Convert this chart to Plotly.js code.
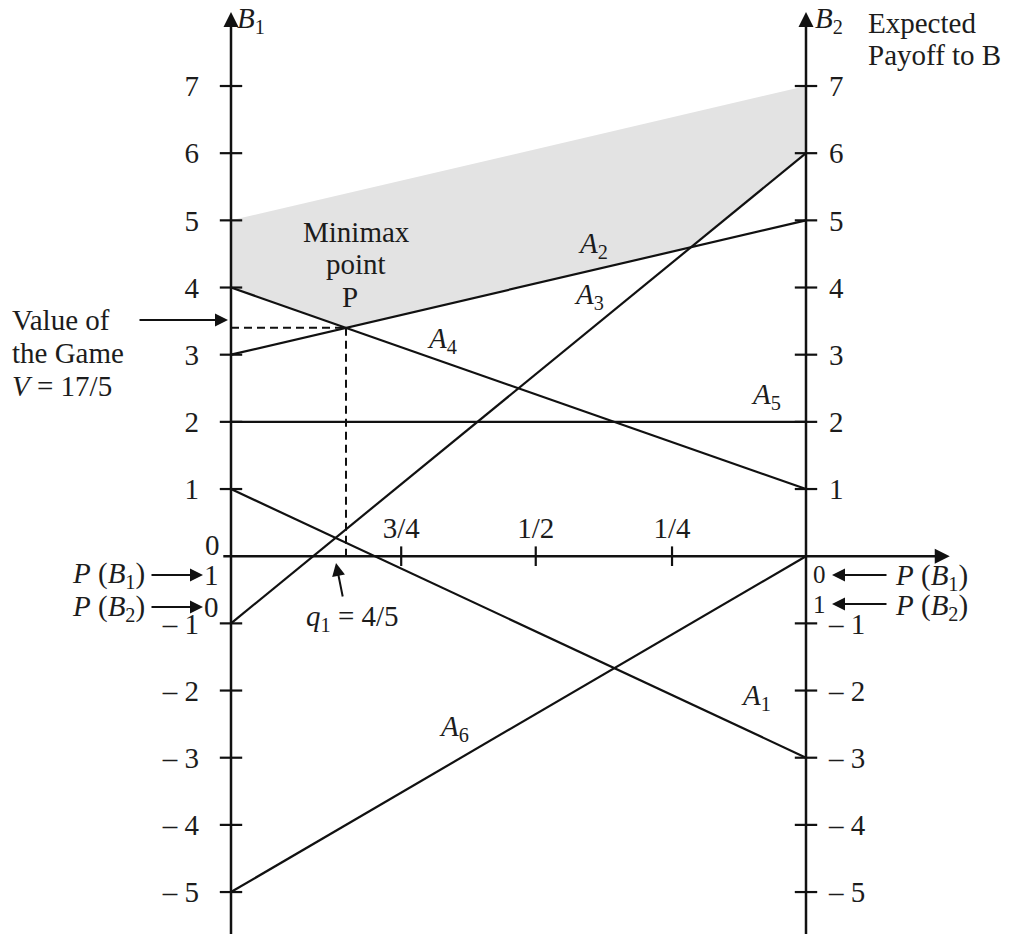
<!DOCTYPE html>
<html><head><meta charset="utf-8">
<script src="https://cdn.plot.ly/plotly-3.0.1.min.js"></script>
<style>html,body{margin:0;padding:0;background:#fff}#chart{width:1023px;height:934px}</style>
</head><body><div id="chart"></div>
<script>
// Player A's strategies: expected payoff to B when B plays B1 (q1 = 1, left axis) and B2 (q1 = 0, right axis)
const strategies = ['A1', 'A2', 'A3', 'A4', 'A5', 'A6'];
const payoffB1 = [1, 3, -1, 4, 2, -5];
const payoffB2 = [-3, 5, 6, 1, 2, 0];
// upper edge of the shaded region (left, right)
const shadeTop = [5, 7];
// axis ticks
const yTickVals = [-5, -4, -3, -2, -1, 1, 2, 3, 4, 5, 6, 7];
const yTickText = ['– 5', '– 4', '– 3', '– 2', '– 1', '1', '2', '3', '4', '5', '6', '7'];
const qTickVals = [0.704, 0.470, 0.233];   // where the drawing places its q1 ticks
const qTickText = ['3/4', '1/2', '1/4'];

const W = 1023, H = 934;
const FONT = 'Liberation Serif, Times New Roman, serif';
const FS = 29, TXT = '#1c1c1c';
const px = v => v / W, py = v => 1 - v / H;

const lineVal = (i, q) => payoffB1[i] * q + payoffB2[i] * (1 - q);
// upper envelope of all lines and its minimum (minimax point)
let cand = [0, 1];
for (let i = 0; i < strategies.length; i++) for (let j = i + 1; j < strategies.length; j++) {
  const d = (payoffB1[i] - payoffB2[i]) - (payoffB1[j] - payoffB2[j]);
  if (d !== 0) { const q = (payoffB2[j] - payoffB2[i]) / d; if (q > 0 && q < 1) cand.push(q); }
}
cand.sort((a, b) => a - b);
const env = q => Math.max(...strategies.map((_, i) => lineVal(i, q)));
let qStar = 0, vStar = Infinity;
cand.forEach(q => { const v = env(q); if (v < vStar) { vStar = v; qStar = q; } });
const envPts = cand.filter(q => {
  const e = 1e-6;
  if (q === 0 || q === 1) return true;
  const l = env(q - e), r = env(q + e), c = env(q);
  return Math.abs((c - l) - (r - c)) > 1e-9;
});
const shadeX = [1, 0].concat(envPts.slice());
const shadeY = [shadeTop[0], shadeTop[1]].concat(envPts.map(env));

const traces = [];
traces.push({ x: shadeX, y: shadeY, mode: 'lines', fill: 'toself', fillcolor: '#e3e3e3',
  line: { width: 0, color: 'rgba(0,0,0,0)' }, hoverinfo: 'skip' });
strategies.forEach((s, i) => traces.push({ x: [1, 0], y: [payoffB1[i], payoffB2[i]], mode: 'lines',
  line: { color: '#111', width: 2.2 }, name: s }));
traces.push({ x: [1, qStar], y: [vStar, vStar], mode: 'lines', line: { color: '#111', width: 2, dash: '8px,5px' } });
traces.push({ x: [qStar, qStar], y: [vStar, 0], mode: 'lines', line: { color: '#111', width: 2, dash: '8px,5px' } });
traces.push({ x: yTickVals.map(() => 1), y: yTickVals, mode: 'markers',
  marker: { symbol: 'line-ew', size: 16, line: { width: 2.2, color: '#111' } } });
traces.push({ x: yTickVals.map(() => 0), y: yTickVals, yaxis: 'y2', mode: 'markers',
  marker: { symbol: 'line-ew', size: 16, line: { width: 2.2, color: '#111' } } });
traces.push({ x: qTickVals, y: qTickVals.map(() => 0), mode: 'markers',
  marker: { symbol: 'line-ns', size: 14, line: { width: 2.2, color: '#111' } } });

const xr = [1 + 231 / 575, 1 - (W - 231) / 575];
const yr = [-(H - 556.2) / 67.17, 556.2 / 67.17];
const tickfont = { family: FONT, size: FS, color: TXT };

const ann = [];
const axisArrow = (x, y, ax, ay) => ann.push({ x, y, ax, ay, xref: 'x', yref: 'y', axref: 'x', ayref: 'y',
  text: '', showarrow: true, arrowhead: 2, arrowsize: 1.2, arrowwidth: 2.5, arrowcolor: '#111' });
axisArrow(1, 8.1, 1, yr[0] - 0.2);
axisArrow(0, 8.1, 0, yr[0] - 0.2);
axisArrow(-0.25, 0, 1.016, 0);

const label = (text, x, y, xanchor = 'center', size = FS) => ann.push({ text, x: px(x), y: py(y),
  xref: 'paper', yref: 'paper', xanchor, yanchor: 'middle', showarrow: false,
  font: { family: FONT, size, color: TXT } });
const arrow = (x1, y1, x2, y2) => ann.push({ x: px(x2), y: py(y2), xref: 'paper', yref: 'paper',
  ax: x1 - x2, ay: y1 - y2, text: '', showarrow: true, arrowhead: 2, arrowsize: 1.3, arrowwidth: 2, arrowcolor: '#111' });

label('<i>B</i><sub>1</sub>', 251, 20);
label('<i>B</i><sub>2</sub>', 829, 20);
label('Expected', 866, 23, 'left');
label('Payoff to B', 866, 55, 'left');
label('0', 212, 545);
label('<i>P</i> (<i>B</i><sub>1</sub>)', 147, 575, 'right');
label('<i>P</i> (<i>B</i><sub>2</sub>)', 147, 608, 'right');
arrow(150, 575, 203, 575); label('1', 211, 575);
arrow(150, 607, 203, 607); label('0', 211, 607);
label('0', 819, 574, 'center', 25); arrow(888, 575, 832, 575); label('<i>P</i> (<i>B</i><sub>1</sub>)', 893, 577, 'left');
label('1', 819, 604, 'center', 25); arrow(888, 604, 832, 604); label('<i>P</i> (<i>B</i><sub>2</sub>)', 893, 607, 'left');
label('Value of', 10, 320, 'left');
label('the Game', 10, 353, 'left');
label('<i>V</i> = 17/5', 10, 386, 'left');
arrow(138, 320, 228, 320);
label('Minimax', 356, 232);
label('point', 356, 264);
label('P', 350, 297);
label('<i>A</i><sub>2</sub>', 593, 245);
label('<i>A</i><sub>3</sub>', 589, 296);
label('<i>A</i><sub>4</sub>', 442, 340);
label('<i>A</i><sub>5</sub>', 766, 396);
label('<i>A</i><sub>1</sub>', 756, 697);
label('<i>A</i><sub>6</sub>', 454, 728);
label('<i>q</i><sub>1</sub> = 4/5', 352, 618);
arrow(343, 598, 336, 563);

const layout = {
  width: W, height: H, margin: { l: 0, r: 0, t: 0, b: 0 },
  paper_bgcolor: '#fff', plot_bgcolor: '#fff', showlegend: false,
  xaxis: { range: xr, anchor: 'free', position: (H - 556.2) / H, side: 'top', tickvals: qTickVals, ticktext: qTickText,
    ticks: '', showgrid: false, zeroline: false, showline: false, tickfont, ticklabelstandoff: 12, automargin: false, fixedrange: true },
  yaxis: { range: yr, anchor: 'free', position: 231 / W, side: 'left', tickvals: yTickVals, ticktext: yTickText,
    ticks: '', showgrid: false, zeroline: false, showline: false, tickfont, ticklabelstandoff: 32, automargin: false, fixedrange: true },
  yaxis2: { range: yr, overlaying: 'y', anchor: 'free', position: 806 / W, side: 'right', tickvals: yTickVals, ticktext: yTickText,
    ticks: '', showgrid: false, zeroline: false, showline: false, tickfont, ticklabelstandoff: 22, automargin: false, fixedrange: true },
  annotations: ann
};
Plotly.newPlot('chart', traces, layout, { staticPlot: true, displayModeBar: false });
</script></body></html>
